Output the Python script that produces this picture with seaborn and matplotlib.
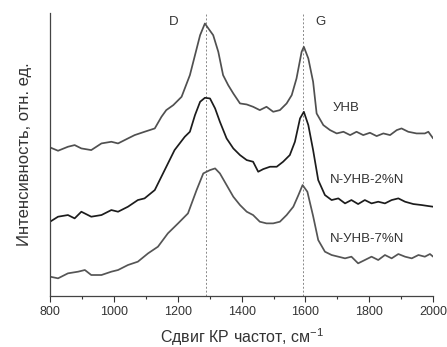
import numpy as np
import pandas as pd
import matplotlib
matplotlib.use("Agg")
import matplotlib.pyplot as plt
import seaborn as sns
from matplotlib.ticker import MultipleLocator

# Raman shift (cm^-1) and intensities (arbitrary units, vertical offsets included)
w_unv = [800, 825, 856, 877, 898, 929, 961, 992, 1013, 1044, 1065, 1096, 1128, 1149, 1164, 1186, 1212,
         1238, 1254, 1270, 1285, 1296, 1311, 1327, 1342, 1358, 1374, 1395, 1416, 1436, 1457, 1478, 1499,
         1520, 1541, 1557, 1572, 1588, 1595, 1609, 1624, 1635, 1656, 1677, 1698, 1719, 1740, 1760, 1781,
         1802, 1823, 1844, 1865, 1886, 1901, 1922, 1948, 1974, 1985, 2000]
i_unv = [446, 436, 448, 453, 443, 438, 458, 463, 458, 473, 483, 493, 503, 538, 558, 573, 598,
         663, 723, 783, 818, 803, 783, 733, 663, 633, 608, 578, 575, 568, 558, 568, 553,
         558, 578, 603, 653, 733, 748, 713, 643, 548, 513, 498, 488, 493, 483, 493, 483,
         490, 480, 488, 483, 498, 503, 493, 488, 488, 493, 473]

w_2n = [800, 825, 856, 877, 898, 929, 961, 992, 1013, 1044, 1075, 1096, 1128, 1159, 1190, 1222, 1238,
        1254, 1270, 1285, 1301, 1317, 1332, 1353, 1374, 1395, 1416, 1436, 1452, 1468, 1489, 1510, 1530,
        1551, 1567, 1583, 1595, 1609, 1624, 1640, 1661, 1682, 1703, 1724, 1744, 1765, 1786, 1807, 1828,
        1849, 1870, 1891, 1912, 1938, 1964, 1985, 2000]
i_2n = [223, 238, 243, 233, 253, 238, 243, 258, 253, 268, 288, 293, 318, 378, 438, 478, 493,
        543, 583, 595, 593, 563, 523, 473, 443, 423, 408, 403, 373, 381, 388, 388, 403,
        423, 463, 533, 553, 513, 438, 348, 303, 288, 293, 278, 288, 276, 288, 278, 283,
        278, 288, 293, 283, 276, 273, 270, 268]

w_7n = [800, 825, 856, 888, 909, 929, 961, 992, 1013, 1044, 1075, 1107, 1138, 1169, 1201, 1232, 1259,
        1280, 1301, 1317, 1332, 1353, 1374, 1395, 1416, 1436, 1457, 1478, 1499, 1520, 1541, 1562, 1578,
        1591, 1606, 1624, 1640, 1661, 1682, 1703, 1724, 1744, 1765, 1786, 1807, 1828, 1849, 1870, 1891,
        1912, 1933, 1954, 1974, 1990, 2000]
i_7n = [58, 53, 68, 73, 78, 63, 63, 73, 78, 93, 103, 128, 148, 188, 218, 248, 318,
        368, 378, 383, 368, 333, 298, 273, 253, 243, 223, 218, 218, 223, 243, 268, 303,
        333, 313, 240, 168, 133, 123, 118, 113, 118, 98, 108, 118, 108, 123, 113, 126,
        118, 113, 123, 118, 126, 118]

series_names = ["УНВ", "N-УНВ-2%N", "N-УНВ-7%N"]
peak_names = ["D", "G"]
peak_pos = [1287, 1593]
x_ticks = [800, 1000, 1200, 1400, 1600, 1800, 2000]

sns.set_style("white")
plt.rcParams['font.family'] = ['Liberation Sans', 'DejaVu Sans']

df = pd.concat([
    pd.DataFrame({"w": w_unv, "I": i_unv, "s": series_names[0]}),
    pd.DataFrame({"w": w_2n, "I": i_2n, "s": series_names[1]}),
    pd.DataFrame({"w": w_7n, "I": i_7n, "s": series_names[2]}),
])

fig = plt.figure(figsize=(4.47, 3.47), dpi=100)
ax = fig.add_axes([0.112, 0.147, 0.857, 0.816])

palette = {series_names[0]: "#505050", series_names[1]: "#1c1c1c", series_names[2]: "#555555"}
sns.lineplot(data=df, x="w", y="I", hue="s", palette=palette, linewidth=1.25,
             legend=False, ax=ax, sort=False)

for p in peak_pos:
    ax.axvline(p, color="#888888", linestyle=(0, (2, 2)), linewidth=0.7, zorder=0)

ax.set_xlim(800, 2000)
ax.set_ylim(0, 850)
ax.set_xticks(x_ticks)
ax.xaxis.set_minor_locator(MultipleLocator(100))
ax.set_yticks([])
ax.tick_params(axis="x", which="major", direction="out", length=4, width=0.8,
               colors="#333333", labelsize=9, bottom=True)
ax.tick_params(axis="x", which="minor", direction="out", length=2.5, width=0.8,
               colors="#333333", bottom=True)

for side in ["top", "right"]:
    ax.spines[side].set_visible(False)
for side in ["left", "bottom"]:
    ax.spines[side].set_color("#444444")
    ax.spines[side].set_linewidth(0.9)

ax.set_xlabel("Сдвиг КР частот, см$^{\\mathregular{-1}}$", fontsize=11.5, color="#333333", labelpad=6)
ax.set_ylabel("Интенсивность, отн. ед.", fontsize=12, color="#333333", labelpad=13)

ax.text(1186, 823, peak_names[0], fontsize=9.5, color="#333333", ha="center", va="center")
ax.text(1647, 823, peak_names[1], fontsize=9.5, color="#333333", ha="center", va="center")
ax.text(1686, 563, series_names[0], fontsize=9.5, color="#333333", ha="left", va="center")
ax.text(1676, 348, series_names[1], fontsize=9.5, color="#333333", ha="left", va="center")
ax.text(1676, 170, series_names[2], fontsize=9.5, color="#333333", ha="left", va="center")

fig.savefig("out.png", dpi=100)
